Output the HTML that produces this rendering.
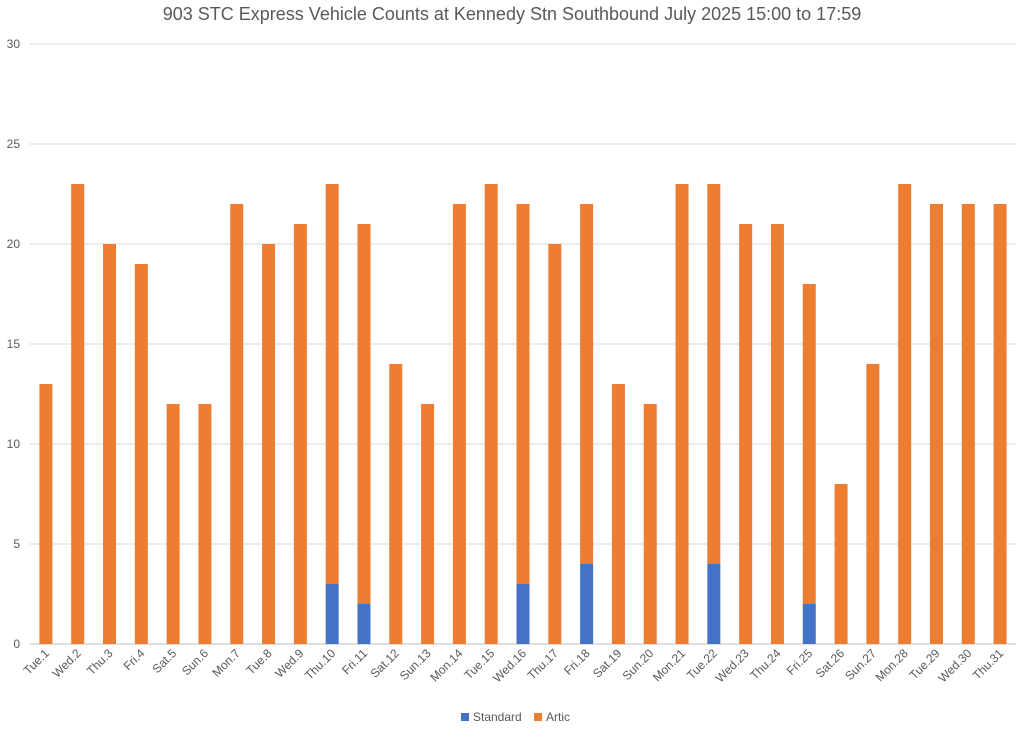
<!DOCTYPE html>
<html><head><meta charset="utf-8">
<style>
body{margin:0;background:#fff;}
svg text{font-family:"Liberation Sans",sans-serif;}
</style></head>
<body>
<svg id="chart" width="1024" height="732" xmlns="http://www.w3.org/2000/svg">
<text x="512" y="20" text-anchor="middle" font-size="18" fill="#595959">903 STC Express Vehicle Counts at Kennedy Stn Southbound July 2025  15:00 to 17:59</text>
<g id="grid"></g><g id="bars"></g><g id="xlabels"></g>
<g>
<rect x="461" y="713" width="8" height="8" fill="#4472c4"/>
<text x="473" y="721" font-size="12" fill="#595959">Standard</text>
<rect x="534" y="713" width="8" height="8" fill="#ed7d31"/>
<text x="546" y="721" font-size="12" fill="#595959">Artic</text>
</g>
</svg>
<script>
const categories=["Tue.1","Wed.2","Thu.3","Fri.4","Sat.5","Sun.6","Mon.7","Tue.8","Wed.9","Thu.10","Fri.11","Sat.12","Sun.13","Mon.14","Tue.15","Wed.16","Thu.17","Fri.18","Sat.19","Sun.20","Mon.21","Tue.22","Wed.23","Thu.24","Fri.25","Sat.26","Sun.27","Mon.28","Tue.29","Wed.30","Thu.31"];
const standard=[0,0,0,0,0,0,0,0,0,3,2,0,0,0,0,3,0,4,0,0,0,4,0,0,2,0,0,0,0,0,0];
const artic=[13,23,20,19,12,12,22,20,21,20,19,14,12,22,23,19,20,18,13,12,23,19,21,21,16,8,14,23,22,22,22];
const yTicks=[0,5,10,15,20,25,30];
const NS="http://www.w3.org/2000/svg";
const L=30,R=1016,T=44,B=644,yMax=30;
const bw=(R-L)/categories.length;
const xc=i=>L+bw*(i+0.5);
const y=v=>B-(v/yMax)*(B-T);
const grid=document.getElementById('grid'),bars=document.getElementById('bars'),xl=document.getElementById('xlabels');
yTicks.forEach(t=>{
 const ln=document.createElementNS(NS,'line');
 ln.setAttribute('x1',L);ln.setAttribute('x2',R);ln.setAttribute('y1',y(t));ln.setAttribute('y2',y(t));
 ln.setAttribute('stroke',t===0?'#bfbfbf':'#d9d9d9');
 
 
 grid.appendChild(ln);
 const tx=document.createElementNS(NS,'text');
 tx.setAttribute('x',L-10);tx.setAttribute('y',y(t)+4);tx.setAttribute('text-anchor','end');
 tx.setAttribute('font-size','12');tx.setAttribute('fill','#595959');tx.textContent=t;
 
 
 grid.appendChild(tx);
});
const w=13;
categories.forEach((c,i)=>{
 const s=standard[i],a=artic[i];
 if(s>0){
  const r=document.createElementNS(NS,'rect');
  r.setAttribute('x',xc(i)-w/2);r.setAttribute('y',y(s));r.setAttribute('width',w);r.setAttribute('height',y(0)-y(s));r.setAttribute('fill','#4472c4');
  
  
  bars.appendChild(r);
 }
 const r2=document.createElementNS(NS,'rect');
 r2.setAttribute('x',xc(i)-w/2);r2.setAttribute('y',y(s+a));r2.setAttribute('width',w);r2.setAttribute('height',y(s)-y(s+a));r2.setAttribute('fill','#ed7d31');
 
 
 bars.appendChild(r2);
 const tx=document.createElementNS(NS,'text');
 const px=xc(i)+4,py=654;
 tx.setAttribute('x',px);tx.setAttribute('y',py);tx.setAttribute('text-anchor','end');
 tx.setAttribute('font-size','12');tx.setAttribute('fill','#595959');
 tx.setAttribute('transform','rotate(-45 '+px+' '+py+')');
 tx.textContent=c;
 
 
 xl.appendChild(tx);
});
</script>
</body></html>
